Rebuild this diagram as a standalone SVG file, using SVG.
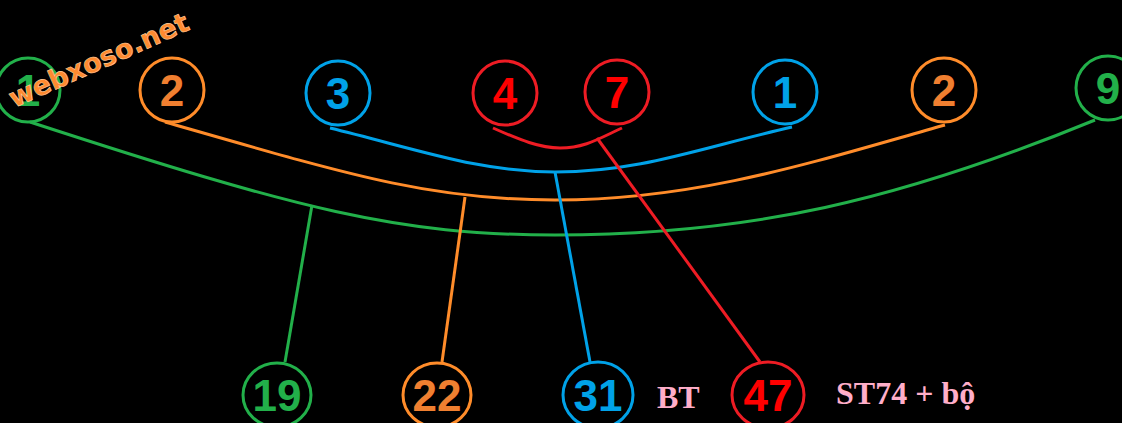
<svg xmlns="http://www.w3.org/2000/svg" width="1122" height="423" viewBox="0 0 1122 423">
<style>
.c{fill:none;stroke-width:3}
.n{font-family:"Liberation Sans",Arial,sans-serif;font-weight:bold;font-size:44px;text-anchor:middle}
.g{stroke:#22b04a}.o{stroke:#ff8c2a}.b{stroke:#00a2e8}.r{stroke:#ee1c24}
.lab{font-family:"Liberation Serif","Times New Roman",serif;font-weight:bold;font-size:32px;fill:#ffaec9}
</style>
<rect width="1122" height="423" fill="#000"/>
<g id="connectors" fill="none" stroke-width="3">
<path class="g" d="M30,122 C300,210 400,235 555,235 C750,235 900,200 1095,120"/>
<path class="g" d="M312,205 L285,362"/>
<path class="o" d="M165,122 C350,175 430,200 555,200 C700,200 820,160 945,125"/>
<path class="o" d="M465,197 L442,362"/>
<path class="b" d="M330,128 C420,150 480,172 555,172 C640,172 700,148 792,127"/>
<path class="b" d="M555,172 L590,362"/>
<path class="r" d="M493,128 C520,140 540,148 560,148 C585,148 600,138 622,128"/>
<path class="r" d="M597,138 L760,362"/>
</g>
<g id="t1"><ellipse class="c g" cx="28" cy="90" rx="32" ry="32"/><text class="n" x="28" y="106" fill="#22b04a">1</text></g>
<g id="t2"><ellipse class="c o" cx="172" cy="90" rx="32" ry="32"/><text class="n" x="172" y="106" fill="#f07f30">2</text></g>
<g id="t3"><ellipse class="c b" cx="338" cy="93" rx="32" ry="32"/><text class="n" x="338" y="109" fill="#00a2e8">3</text></g>
<g id="t4"><ellipse class="c r" cx="505" cy="93" rx="32" ry="32"/><text class="n" x="505" y="109" fill="#ff0000">4</text></g>
<g id="t7"><ellipse class="c r" cx="617" cy="92" rx="32" ry="32"/><text class="n" x="617" y="108" fill="#ff0000">7</text></g>
<g id="t1b"><ellipse class="c b" cx="785" cy="92" rx="32" ry="32"/><text class="n" x="785" y="108" fill="#00a2e8">1</text></g>
<g id="t2b"><ellipse class="c o" cx="944" cy="90" rx="32" ry="32"/><text class="n" x="944" y="106" fill="#f07f30">2</text></g>
<g id="t9"><ellipse class="c g" cx="1108" cy="88" rx="32" ry="32"/><text class="n" x="1108" y="104" fill="#22b04a">9</text></g>
<g id="b19"><ellipse class="c g" cx="277" cy="395" rx="34" ry="32"/><text class="n" x="277" y="411" fill="#22b04a">19</text></g>
<g id="b22"><ellipse class="c o" cx="437" cy="395" rx="34" ry="32"/><text class="n" x="437" y="411" fill="#f07f30">22</text></g>
<g id="b31"><ellipse class="c b" cx="598" cy="395" rx="35" ry="33"/><text class="n" x="598" y="411" fill="#00a2e8">31</text></g>
<g id="b47"><ellipse class="c r" cx="768" cy="395" rx="36" ry="33"/><text class="n" x="768" y="411" fill="#ff0000">47</text></g>
<text class="lab" x="657" y="408">BT</text>
<text class="lab" x="836" y="404">ST74 + bộ</text>
<text transform="translate(14,108) rotate(-24)" font-family="'DejaVu Sans',sans-serif" font-weight="bold" font-size="27" fill="#ff8a30" stroke="#ffd0a0" stroke-width="0.6">webxoso.net</text>
</svg>
